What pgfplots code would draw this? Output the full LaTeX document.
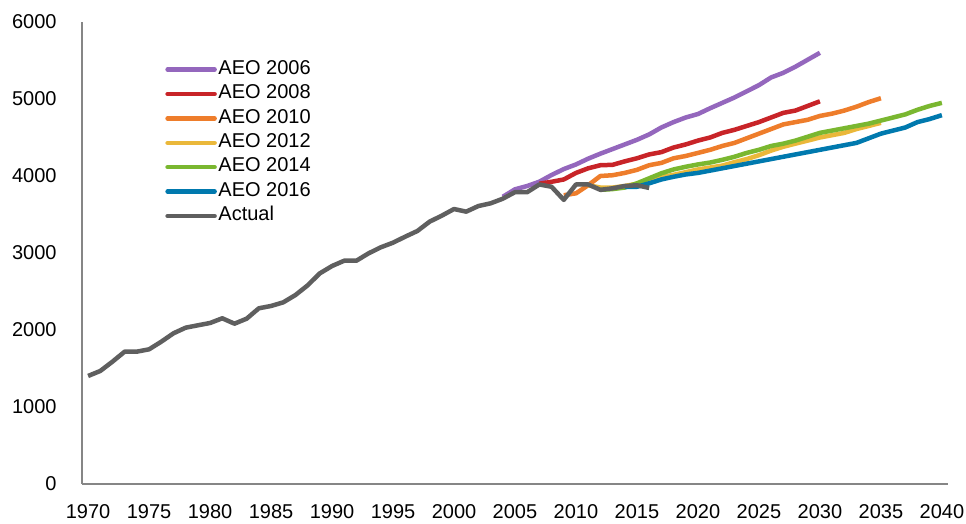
\documentclass[border=0pt]{standalone}
\usepackage{fontspec}
\setmainfont{Liberation Sans}
\usepackage{pgfplots}
\pgfplotsset{compat=1.18}
\definecolor{cpurple}{RGB}{148,103,189}
\definecolor{cred}{RGB}{200,36,40}
\definecolor{corange}{RGB}{238,125,43}
\definecolor{cyellow}{RGB}{234,184,58}
\definecolor{cgreen}{RGB}{122,183,48}
\definecolor{cblue}{RGB}{0,121,174}
\definecolor{cgray}{RGB}{95,95,95}
\definecolor{axisgray}{RGB}{134,134,134}
\begin{document}
\begin{tikzpicture}
\useasboundingbox (-41pt,-20pt) rectangle (442pt,242pt);
\begin{axis}[
  scale only axis,
  width=433pt, height=231pt,
  xmin=1969.5, xmax=2040.5, ymin=0, ymax=6000,
  axis x line=bottom, axis y line=left,
  axis line style={-, draw=axisgray, line width=1pt},
  major tick length=0pt,
  xtick={1970,1975,...,2040},
  ytick={0,1000,...,6000},
  /pgf/number format/assume math mode=true,
  /pgf/number format/1000 sep={},
  tick label style={font=\fontsize{10}{12}\selectfont},
  yticklabel style={xshift=-9.2pt},
  xticklabel style={yshift=-6.6pt},
  every axis plot/.append style={line width=2.25pt, line join=round, no marks},
  legend image code/.code={\draw[#1, line cap=round] (0pt,0pt) -- (23.5pt,0pt);},
  legend cell align=left,
  legend style={at={(0.0958,0.9242)}, anchor=north west, draw=none, fill=none,
    font=\fontsize{10}{12}\selectfont, inner sep=0pt, row sep=0pt,
    nodes={inner sep=0.8pt, text height=7.65pt, text depth=2.95pt},
    /tikz/every even column/.append style={column sep=1.0pt}},
]
\addplot[cpurple] coordinates {
(2004,3730)(2005,3827)(2006,3870)(2007,3926)(2008,4013)(2009,4090)(2010,4150)
(2011,4225)(2012,4290)(2013,4350)(2014,4410)(2015,4470)(2016,4540)(2017,4630)
(2018,4700)(2019,4760)(2020,4805)(2021,4880)(2022,4950)(2023,5020)(2024,5100)
(2025,5180)(2026,5280)(2027,5340)(2028,5420)(2029,5510)(2030,5600)};
\addlegendentry{AEO 2006}
\addplot[cred] coordinates {
(2007,3900)(2008,3925)(2009,3955)(2010,4040)(2011,4100)(2012,4140)(2013,4145)
(2014,4190)(2015,4230)(2016,4280)(2017,4310)(2018,4370)(2019,4410)(2020,4460)
(2021,4500)(2022,4560)(2023,4600)(2024,4650)(2025,4700)(2026,4760)(2027,4820)
(2028,4850)(2029,4910)(2030,4970)};
\addlegendentry{AEO 2008}
\addplot[corange] coordinates {
(2009,3750)(2010,3775)(2011,3880)(2012,4000)(2013,4010)(2014,4040)(2015,4080)
(2016,4140)(2017,4170)(2018,4230)(2019,4260)(2020,4300)(2021,4340)(2022,4390)
(2023,4430)(2024,4490)(2025,4550)(2026,4610)(2027,4670)(2028,4700)(2029,4730)
(2030,4780)(2031,4810)(2032,4850)(2033,4900)(2034,4960)(2035,5010)};
\addlegendentry{AEO 2010}
\addplot[cyellow] coordinates {
(2011,3880)(2012,3850)(2013,3850)(2014,3870)(2015,3900)(2016,3950)(2017,3985)
(2018,4015)(2019,4050)(2020,4085)(2021,4110)(2022,4135)(2023,4180)(2024,4220)
(2025,4270)(2026,4330)(2027,4380)(2028,4420)(2029,4460)(2030,4500)(2031,4530)
(2032,4560)(2033,4610)(2034,4650)(2035,4690)};
\addlegendentry{AEO 2012}
\addplot[cgreen] coordinates {
(2012,3820)(2013,3830)(2014,3850)(2015,3905)(2016,3970)(2017,4035)(2018,4085)
(2019,4120)(2020,4150)(2021,4175)(2022,4210)(2023,4250)(2024,4300)(2025,4340)
(2026,4390)(2027,4420)(2028,4460)(2029,4510)(2030,4560)(2031,4590)(2032,4620)
(2033,4650)(2034,4680)(2035,4720)(2036,4760)(2037,4800)(2038,4860)(2039,4910)
(2040,4950)};
\addlegendentry{AEO 2014}
\addplot[cblue] coordinates {
(2014,3860)(2015,3860)(2016,3905)(2017,3955)(2018,3990)(2019,4020)(2020,4040)
(2021,4070)(2022,4100)(2023,4130)(2024,4160)(2025,4190)(2026,4220)(2027,4250)
(2028,4280)(2029,4310)(2030,4340)(2031,4370)(2032,4400)(2033,4430)(2034,4490)
(2035,4550)(2036,4590)(2037,4630)(2038,4700)(2039,4740)(2040,4790)};
\addlegendentry{AEO 2016}
\addplot[cgray] coordinates {
(1970,1403)(1971,1468)(1972,1589)(1973,1719)(1974,1719)(1975,1749)(1976,1848)
(1977,1957)(1978,2030)(1979,2061)(1980,2091)(1981,2152)(1982,2082)(1983,2147)
(1984,2282)(1985,2312)(1986,2359)(1987,2454)(1988,2580)(1989,2736)(1990,2831)
(1991,2900)(1992,2900)(1993,2996)(1994,3074)(1995,3134)(1996,3212)(1997,3286)
(1998,3407)(1999,3485)(2000,3571)(2001,3537)(2002,3610)(2003,3645)(2004,3705)
(2005,3790)(2006,3790)(2007,3890)(2008,3860)(2009,3690)(2010,3890)(2011,3890)
(2012,3820)(2013,3840)(2014,3870)(2015,3880)(2016,3845)};
\addlegendentry{Actual}
\end{axis}
\end{tikzpicture}
\end{document}
